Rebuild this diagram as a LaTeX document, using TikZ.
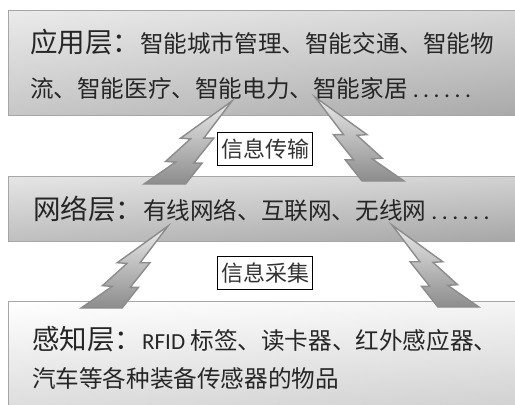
\documentclass[tikz,border=0pt]{standalone}
\usepackage{fontspec}
\usetikzlibrary{shadings}
\newfontfamily\cjk{Noto Sans CJK SC}
\newfontfamily\latn{Carlito}
\newcommand{\sixdots}{{\latn\kern5pt.\kern4.5pt.\kern4.5pt.\kern4.5pt.\kern4.5pt.\kern4.5pt.}}
\newcommand{\hdr}[1]{{\fontsize{27.5}{30}\selectfont #1}}
\begin{document}
\begin{tikzpicture}[x=1pt,y=-1pt,
  txt/.style={inner sep=0pt, anchor=west, text=black!85,
    font=\cjk\fontsize{23.6}{26}\selectfont},
  lbl/.style={draw=black, line width=1.2pt, fill=white, inner xsep=3.5pt,
    inner ysep=0pt, minimum height=33pt, text=black!80,
    font=\cjk\fontsize{22}{24}\selectfont},
  bolt/.style={draw=black!45, line width=1.4pt, top color=black!8,
    bottom color=black!45},
  layer/.style={draw=black!35, line width=0.8pt}]
\useasboundingbox (0,0) rectangle (515,405);
\clip (0,0) rectangle (515,405);
\fill[white] (0,0) rectangle (515,405);

% layer boxes
\path[layer, upper left=black!8, upper right=black!16, lower left=black!22, lower right=black!34]
  (8,10) rectangle (530,115);
\path[layer, upper left=black!10, upper right=black!18, lower left=black!25, lower right=black!35]
  (8,176) rectangle (530,241);
\path[layer, upper left=white, upper right=black!4, lower left=black!15, lower right=black!20]
  (8,301) rectangle (530,420);

% texts
\node[txt] (a1) at (30,42) {\hdr{应用层：}智能城市管理、智能交通、智能物};
\node[txt] (a2) at (30,88) {流、智能医疗、智能电力、智能家居\sixdots};
\node[txt] (b1) at (33,209) {\hdr{网络层：}有线网络、互联网、无线网\sixdots};
\node[txt] (c1) at (32,339) {\hdr{感知层：}{\latn\fontsize{23}{26}\selectfont RFID} 标签、读卡器、红外感应器、};
\node[txt] (c2) at (32,378) {汽车等各种装备传感器的物品};

% lightning bolts
\coordinate (t1) at (232,101);
\coordinate (t2) at (315,97);
\coordinate (t3) at (168,226);
\coordinate (t4) at (392,225);
\def\boltpath{(0,0) -- (-0.62,0.448) -- (-0.50,0.456) -- (-0.80,0.728) -- (-0.68,0.736) -- (-1.06,1) -- (-0.56,1) -- (-0.36,0.748) -- (-0.46,0.748) -- (-0.22,0.448) -- (-0.34,0.448) -- cycle}
\begin{scope}[shift={(t1)}, x={(83pt,0pt)}, y={(0pt,-83pt)}]
  \path[bolt] \boltpath;
\end{scope}
\begin{scope}[shift={(t2)}, x={(-84pt,0pt)}, y={(0pt,-84pt)}]
  \path[bolt] \boltpath;
\end{scope}
\begin{scope}[shift={(t3)}, x={(82pt,0pt)}, y={(0pt,-82pt)}]
  \path[bolt] \boltpath;
\end{scope}
\begin{scope}[shift={(t4)}, x={(-82pt,0pt)}, y={(0pt,-82pt)}]
  \path[bolt] \boltpath;
\end{scope}

% labels
\node[lbl] (l1) at (265,149) {信息传输};
\node[lbl] (l2) at (265,273) {信息采集};
\end{tikzpicture}
\end{document}
